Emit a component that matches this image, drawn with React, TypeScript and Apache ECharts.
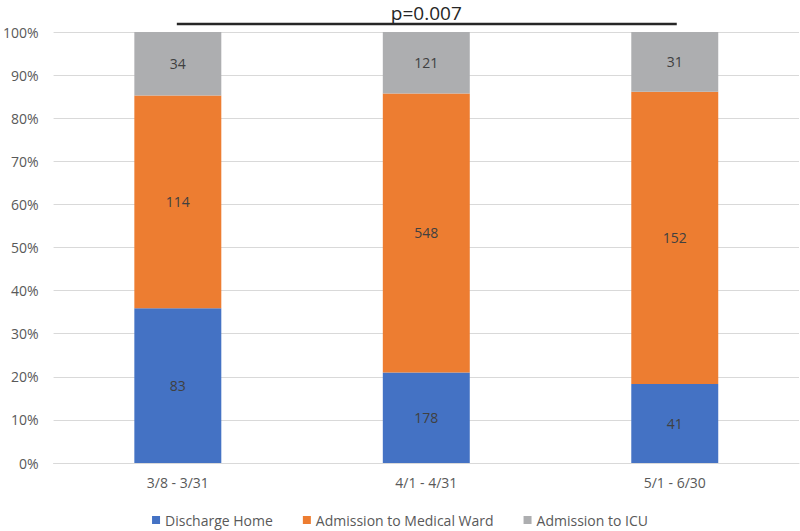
import React, { useEffect, useRef } from "react";
import * as echarts from "echarts";

const categories = ["3/8 - 3/31", "4/1 - 4/31", "5/1 - 6/30"];
const seriesNames = ["Discharge Home", "Admission to Medical Ward", "Admission to ICU"];
const dischargeHome = [83, 178, 41];
const medicalWard = [114, 548, 152];
const icu = [34, 121, 31];
const colors = ["#4472C4", "#ED7D31", "#ADAEB0"];
const pValueText = "p=0.007";

export default function App() {
  const ref = useRef<HTMLDivElement>(null);
  useEffect(() => {
    document.body.style.margin = "0";
    const chart = echarts.init(ref.current!, null, { renderer: "svg" });
    const counts = [dischargeHome, medicalWard, icu];
    const totals = categories.map((_, i) => counts.reduce((s, arr) => s + arr[i], 0));
    const font = "'Open Sans', 'Noto Sans', sans-serif";
    const series = counts.map((arr, si) => ({
      name: seriesNames[si],
      type: "bar",
      stack: "total",
      barWidth: "35%",
      itemStyle: { color: colors[si] },
      label: {
        show: true,
        position: "inside",
        color: "#404040",
        fontSize: 14,
        fontFamily: font,
        formatter: (p: any) => String(arr[p.dataIndex]),
      },
      data: arr.map((v, i) => (v / totals[i]) * 100),
    }));
    const option: any = {
      animation: false,
      grid: { left: 52, right: 1, top: 32, bottom: 68, containLabel: false },
      legend: {
        bottom: -1,
        left: "center",
        itemWidth: 8,
        itemHeight: 8,
        itemGap: 30,
        icon: "rect",
        textStyle: { color: "#595959", fontSize: 14, fontFamily: font },
        data: seriesNames,
      },
      xAxis: {
        type: "category",
        data: categories,
        axisLine: { lineStyle: { color: "#d9d9d9" } },
        axisTick: { show: false },
        axisLabel: { color: "#595959", fontSize: 14, fontFamily: font, margin: 12 },
      },
      yAxis: {
        type: "value",
        min: 0,
        max: 100,
        interval: 10,
        axisLabel: { formatter: "{value}%", color: "#595959", fontSize: 14, fontFamily: font, margin: 15 },
        splitLine: { lineStyle: { color: "#d9d9d9" } },
        axisLine: { show: false },
        axisTick: { show: false },
      },
      series,
    };
    chart.setOption(option);
    const p1 = chart.convertToPixel({ xAxisIndex: 0, yAxisIndex: 0 }, [0, 100]) as number[];
    const p2 = chart.convertToPixel({ xAxisIndex: 0, yAxisIndex: 0 }, [2, 100]) as number[];
    const y = p1[1] - 8;
    chart.setOption({
      graphic: [
        {
          type: "line",
          shape: { x1: p1[0] - 1, y1: y, x2: p2[0] + 2, y2: y },
          style: { stroke: "#262626", lineWidth: 2.5 },
        },
        {
          type: "text",
          x: (p1[0] + p2[0]) / 2,
          y: y - 2,
          style: {
            text: pValueText,
            fill: "#262626",
            fontSize: 19,
            fontFamily: font,
            textAlign: "center",
            textVerticalAlign: "bottom",
          },
        },
      ],
    });
    return () => chart.dispose();
  }, []);
  return <div ref={ref} style={{ width: 800, height: 531 }} />;
}
